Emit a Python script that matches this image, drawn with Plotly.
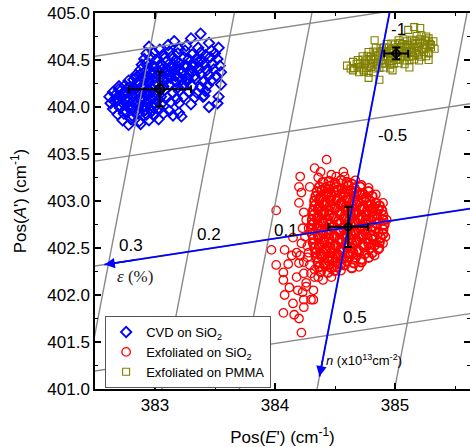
import plotly.graph_objects as go

# ---------------- data ----------------
# Pos(E'), Pos(A') pairs in cm^-1
cvd_points = [
    (383.38, 404.78),
    (383.16, 404.70), (383.30, 404.73), (383.45, 404.68),
    (382.95, 404.64), (383.04, 404.61), (383.11, 404.66), (383.20, 404.62), (383.26, 404.65), (383.36, 404.63), (383.47, 404.60), (383.53, 404.63),
    (382.93, 404.57), (382.99, 404.58), (383.07, 404.56), (383.12, 404.59), (383.19, 404.57), (383.25, 404.60), (383.31, 404.56), (383.38, 404.58), (383.42, 404.55), (383.50, 404.57),
    (382.91, 404.51), (382.97, 404.53), (383.01, 404.50), (383.08, 404.52), (383.14, 404.54), (383.17, 404.50), (383.24, 404.53), (383.28, 404.51), (383.35, 404.52), (383.39, 404.50), (383.46, 404.53), (383.52, 404.51),
    (382.89, 404.45), (382.93, 404.47), (382.98, 404.44), (383.05, 404.46), (383.09, 404.48), (383.15, 404.45), (383.20, 404.47), (383.24, 404.44), (383.31, 404.46), (383.36, 404.48), (383.41, 404.45), (383.48, 404.46), (383.54, 404.44),
    (382.88, 404.40), (382.92, 404.38), (382.95, 404.41), (383.00, 404.42), (383.06, 404.40), (383.11, 404.38), (383.14, 404.41), (383.21, 404.40), (383.26, 404.42), (383.30, 404.39), (383.37, 404.41), (383.43, 404.39), (383.49, 404.40), (383.55, 404.37),
    (382.84, 404.34), (382.88, 404.35), (382.92, 404.33), (382.97, 404.36), (383.02, 404.34), (383.05, 404.32), (383.12, 404.35), (383.17, 404.33), (383.22, 404.36), (383.28, 404.34), (383.33, 404.33), (383.38, 404.35), (383.45, 404.34), (383.51, 404.33),
    (382.78, 404.28), (382.82, 404.29), (382.86, 404.27), (382.91, 404.30), (382.95, 404.28), (383.01, 404.27), (383.06, 404.29), (383.10, 404.30), (383.17, 404.27), (383.22, 404.29), (383.26, 404.28), (383.34, 404.30), (383.40, 404.27), (383.47, 404.28), (383.55, 404.24),
    (382.70, 404.22), (382.75, 404.23), (382.79, 404.21), (382.86, 404.24), (382.89, 404.22), (382.96, 404.21), (383.00, 404.23), (383.07, 404.22), (383.12, 404.24), (383.19, 404.21), (383.23, 404.23), (383.31, 404.22), (383.38, 404.21), (383.44, 404.23),
    (382.65, 404.16), (382.71, 404.17), (382.76, 404.15), (382.80, 404.18), (382.86, 404.16), (382.91, 404.15), (382.95, 404.17), (383.03, 404.16), (383.08, 404.18), (383.15, 404.15), (383.20, 404.17), (383.28, 404.16), (383.35, 404.15), (383.42, 404.17), (383.53, 404.11),
    (382.62, 404.11), (382.68, 404.10), (382.71, 404.12), (382.78, 404.09), (382.82, 404.11), (382.88, 404.10), (382.93, 404.12), (382.97, 404.09), (383.05, 404.11), (383.10, 404.10), (383.18, 404.09), (383.24, 404.11), (383.33, 404.10), (383.41, 404.12),
    (382.63, 404.04), (382.67, 404.05), (382.74, 404.03), (382.78, 404.06), (382.84, 404.04), (382.87, 404.03), (382.94, 404.05), (383.00, 404.04), (383.05, 404.03), (383.13, 404.05), (383.20, 404.04), (383.30, 404.03),
    (382.65, 403.98), (382.71, 403.99), (382.75, 403.97), (382.82, 403.99), (382.86, 403.98), (382.92, 403.97), (382.99, 403.99), (383.04, 403.98), (383.12, 403.96), (383.20, 403.94),
    (382.69, 403.92), (382.74, 403.93), (382.81, 403.91), (382.86, 403.93), (382.93, 403.92), (382.99, 403.91), (383.07, 403.93), (383.15, 403.91),
    (382.73, 403.86), (382.80, 403.87), (382.87, 403.85), (382.95, 403.86), (383.03, 403.87),
    (382.78, 403.81), (382.88, 403.82),
    (382.70, 404.19), (382.77, 404.20), (382.83, 404.19), (382.90, 404.20), (382.98, 404.19), (383.04, 404.20),
    (382.67, 404.13), (382.74, 404.14), (382.81, 404.13), (382.88, 404.14), (382.95, 404.13), (383.02, 404.14),
    (382.68, 404.07), (382.75, 404.08), (382.82, 404.07), (382.89, 404.08), (382.96, 404.07), (383.03, 404.08),
    (382.70, 404.01), (382.78, 404.01), (382.84, 404.02), (382.90, 404.01), (382.97, 404.02),
    (382.76, 403.95), (382.84, 403.95), (382.91, 403.96), (382.97, 403.95),
    (382.84, 404.31), (382.90, 404.31), (382.94, 404.32), (383.00, 404.31), (383.07, 404.30), (383.13, 404.31), (383.20, 404.32), (383.27, 404.31),
    (382.99, 404.43), (383.06, 404.44), (383.13, 404.43), (383.19, 404.43), (383.26, 404.44), (383.32, 404.43),
    (383.00, 404.37), (383.08, 404.37), (383.15, 404.38), (383.22, 404.37), (383.29, 404.38),
    (383.52, 404.04), (383.45, 404.00), (383.22, 403.90), (383.40, 404.11),
]

exf_sio2_core = [
    (384.40, 403.20), (384.45, 403.21), (384.50, 403.19), (384.55, 403.22), (384.60, 403.20), (384.64, 403.18),
    (384.37, 403.15), (384.42, 403.14), (384.46, 403.16), (384.51, 403.15), (384.56, 403.13), (384.61, 403.16), (384.66, 403.14), (384.71, 403.15),
    (384.35, 403.10), (384.39, 403.11), (384.44, 403.09), (384.49, 403.10), (384.53, 403.12), (384.58, 403.09), (384.63, 403.11), (384.68, 403.10), (384.73, 403.08), (384.78, 403.10),
    (384.34, 403.05), (384.38, 403.04), (384.43, 403.06), (384.47, 403.05), (384.52, 403.03), (384.57, 403.06), (384.61, 403.04), (384.66, 403.05), (384.71, 403.07), (384.76, 403.04), (384.81, 403.05),
    (384.33, 403.00), (384.37, 403.01), (384.42, 402.99), (384.46, 403.01), (384.51, 403.00), (384.55, 402.98), (384.60, 403.01), (384.65, 403.00), (384.69, 402.99), (384.74, 403.01), (384.79, 403.00), (384.84, 402.98),
    (384.33, 402.95), (384.37, 402.94), (384.41, 402.96), (384.46, 402.95), (384.50, 402.93), (384.55, 402.96), (384.59, 402.94), (384.64, 402.95), (384.68, 402.96), (384.73, 402.94), (384.78, 402.95), (384.82, 402.93), (384.87, 402.95),
    (384.32, 402.90), (384.36, 402.91), (384.41, 402.89), (384.45, 402.90), (384.50, 402.92), (384.54, 402.89), (384.59, 402.91), (384.63, 402.90), (384.68, 402.88), (384.72, 402.91), (384.77, 402.90), (384.81, 402.89), (384.86, 402.91), (384.89, 402.90),
    (384.32, 402.85), (384.36, 402.84), (384.40, 402.86), (384.45, 402.85), (384.49, 402.83), (384.54, 402.86), (384.58, 402.84), (384.63, 402.85), (384.67, 402.86), (384.72, 402.84), (384.76, 402.85), (384.81, 402.83), (384.85, 402.86), (384.90, 402.85),
    (384.31, 402.80), (384.35, 402.81), (384.40, 402.79), (384.44, 402.80), (384.49, 402.82), (384.53, 402.79), (384.58, 402.81), (384.62, 402.80), (384.67, 402.78), (384.71, 402.81), (384.76, 402.80), (384.80, 402.79), (384.85, 402.81), (384.90, 402.80),
    (384.31, 402.75), (384.36, 402.74), (384.40, 402.76), (384.45, 402.75), (384.49, 402.73), (384.54, 402.76), (384.58, 402.74), (384.63, 402.75), (384.67, 402.76), (384.72, 402.74), (384.76, 402.75), (384.81, 402.73), (384.85, 402.76), (384.91, 402.75),
    (384.31, 402.70), (384.35, 402.71), (384.39, 402.69), (384.44, 402.70), (384.48, 402.72), (384.53, 402.69), (384.57, 402.71), (384.62, 402.70), (384.66, 402.68), (384.71, 402.71), (384.75, 402.70), (384.80, 402.69), (384.84, 402.71), (384.90, 402.70),
    (384.31, 402.65), (384.36, 402.64), (384.40, 402.66), (384.45, 402.65), (384.49, 402.63), (384.54, 402.66), (384.58, 402.64), (384.63, 402.65), (384.67, 402.66), (384.72, 402.64), (384.76, 402.65), (384.81, 402.63), (384.86, 402.66), (384.90, 402.65),
    (384.32, 402.60), (384.36, 402.61), (384.41, 402.59), (384.45, 402.60), (384.50, 402.62), (384.54, 402.59), (384.59, 402.61), (384.63, 402.60), (384.68, 402.58), (384.72, 402.61), (384.77, 402.60), (384.82, 402.59), (384.88, 402.61),
    (384.32, 402.55), (384.37, 402.54), (384.41, 402.56), (384.46, 402.55), (384.50, 402.53), (384.55, 402.56), (384.59, 402.54), (384.64, 402.55), (384.68, 402.56), (384.73, 402.54), (384.78, 402.55), (384.83, 402.53), (384.87, 402.56),
    (384.33, 402.50), (384.37, 402.51), (384.42, 402.49), (384.46, 402.50), (384.51, 402.52), (384.55, 402.49), (384.60, 402.51), (384.64, 402.50), (384.69, 402.48), (384.74, 402.51), (384.79, 402.50), (384.86, 402.49),
    (384.34, 402.45), (384.38, 402.44), (384.43, 402.46), (384.47, 402.45), (384.52, 402.43), (384.56, 402.46), (384.61, 402.44), (384.65, 402.45), (384.70, 402.46), (384.75, 402.44), (384.81, 402.45),
    (384.35, 402.40), (384.39, 402.41), (384.44, 402.39), (384.48, 402.40), (384.53, 402.42), (384.57, 402.39), (384.62, 402.41), (384.67, 402.40), (384.72, 402.38), (384.78, 402.40),
    (384.36, 402.35), (384.41, 402.34), (384.45, 402.36), (384.50, 402.35), (384.55, 402.33), (384.60, 402.36), (384.66, 402.34), (384.72, 402.35),
    (384.37, 402.30), (384.42, 402.31), (384.47, 402.29), (384.52, 402.30), (384.58, 402.32), (384.64, 402.29),
    (384.38, 402.25), (384.44, 402.24), (384.50, 402.26),
]

exf_sio2_scatter = [
    (384.43, 403.44), (384.33, 403.35), (384.38, 403.31), (384.21, 403.26), (384.47, 403.28), (384.51, 403.26), (384.57, 403.31), (384.58, 403.26),
    (384.20, 403.15), (384.29, 403.15), (384.22, 403.09), (384.20, 402.98), (384.01, 402.90), (384.36, 403.25), (384.24, 402.88), (384.26, 402.80),
    (384.23, 402.71), (384.28, 402.71), (384.87, 402.50), (384.33, 402.27), (384.26, 402.09), (384.30, 401.95), (384.24, 401.87),
    (383.97, 402.48), (384.08, 402.48), (384.15, 402.61), (384.01, 402.32), (384.07, 402.24), (384.07, 402.16), (384.08, 402.00), (384.15, 401.91),
    (384.07, 401.81), (384.16, 401.79), (384.22, 401.60), (384.19, 402.05), (384.23, 402.03), (384.32, 402.05), (384.24, 401.95), (384.32, 401.95),
    (384.18, 402.19), (384.24, 402.23), (384.26, 402.13), (384.20, 402.34), (384.24, 402.35), (384.30, 402.23), (384.33, 402.19), (384.36, 402.19),
    (384.40, 402.16), (384.47, 402.19), (384.67, 403.22), (384.72, 403.17), (384.78, 403.14), (384.84, 403.07), (384.90, 402.98), (384.93, 402.80),
    (384.92, 402.62), (384.90, 402.55), (384.83, 402.42), (384.70, 402.30), (384.55, 402.26), (384.27, 402.52), (384.27, 402.40), (384.29, 402.32),
    (384.14, 402.42), (384.11, 402.33), (384.12, 402.08), (384.20, 401.75), (384.18, 402.45), (384.22, 402.55), (384.25, 402.62), (384.21, 402.42),
    (384.28, 402.45),
]

exf_pmma_points = [
    (385.18, 404.755), (385.22, 404.76), (385.26, 404.75),
    (385.03, 404.71), (385.07, 404.72), (385.10, 404.70), (385.14, 404.715), (385.17, 404.705), (385.21, 404.72), (385.25, 404.71), (385.28, 404.70),
    (384.93, 404.67), (384.97, 404.675), (385.00, 404.665), (385.04, 404.68), (385.07, 404.67), (385.11, 404.66), (385.14, 404.675), (385.18, 404.67), (385.21, 404.68), (385.25, 404.665), (385.29, 404.67),
    (384.84, 404.63), (384.88, 404.625), (384.91, 404.635), (384.95, 404.63), (384.98, 404.62), (385.02, 404.635), (385.05, 404.63), (385.09, 404.64), (385.12, 404.625), (385.16, 404.63), (385.19, 404.635), (385.23, 404.62), (385.26, 404.63), (385.30, 404.635),
    (384.78, 404.585), (384.82, 404.59), (384.85, 404.58), (384.89, 404.595), (384.92, 404.585), (384.96, 404.575), (384.99, 404.59), (385.03, 404.585), (385.06, 404.58), (385.10, 404.595), (385.13, 404.585), (385.17, 404.575), (385.20, 404.59), (385.24, 404.585), (385.28, 404.58),
    (384.73, 404.54), (384.77, 404.545), (384.80, 404.535), (384.84, 404.54), (384.87, 404.55), (384.91, 404.535), (384.94, 404.54), (384.98, 404.545), (385.01, 404.53), (385.05, 404.54), (385.08, 404.545), (385.12, 404.535), (385.15, 404.54), (385.19, 404.55), (385.22, 404.535), (385.26, 404.54),
    (384.69, 404.50), (384.73, 404.505), (384.76, 404.495), (384.80, 404.50), (384.83, 404.51), (384.87, 404.495), (384.90, 404.50), (384.94, 404.505), (384.97, 404.49), (385.01, 404.50), (385.04, 404.505), (385.08, 404.495), (385.12, 404.50), (385.16, 404.505), (385.20, 404.495),
    (384.68, 404.46), (384.71, 404.465), (384.75, 404.455), (384.78, 404.46), (384.82, 404.47), (384.85, 404.455), (384.89, 404.46), (384.92, 404.465), (384.96, 404.45), (384.99, 404.46), (385.03, 404.465), (385.08, 404.455),
    (384.66, 404.415), (384.70, 404.42), (384.73, 404.41), (384.77, 404.415), (384.80, 404.425), (384.84, 404.41), (384.87, 404.415), (384.91, 404.42), (384.96, 404.41),
    (384.70, 404.37), (384.74, 404.375), (384.78, 404.365), (384.82, 404.37),
    (384.83, 404.71), (385.11, 404.82), (385.16, 404.85), (385.21, 404.84), (385.28, 404.73), (385.30, 404.66), (385.28, 404.57), (385.28, 404.50),
    (385.33, 404.62), (384.87, 404.29), (384.78, 404.31), (384.63, 404.41), (384.65, 404.48), (384.65, 404.39), (384.74, 404.39), (384.98, 404.39),
    (385.12, 404.42), (384.60, 404.44), (385.32, 404.70),
]

# means and standard deviations (E', A')
means_E = [383.04, 384.61, 385.01]
means_A = [404.19, 402.725, 404.57]
sd_E = [0.26, 0.165, 0.10]
sd_A = [0.185, 0.215, 0.063]

# strain / doping decomposition: reference point and shift coefficients
ref_E, ref_A = 384.61, 402.72
strain_dE, strain_dA = -6.66, -1.30     # cm^-1 per 1 % strain
doping_dE, doping_dA = -0.347, -2.30    # cm^-1 per 1e13 cm^-2
strain_grid = [-0.2, -0.1, 0.0, 0.1, 0.2, 0.3, 0.4]
doping_grid = [-1.5, -1.0, -0.5, 0.0, 0.5, 1.0]
strain_labels = [0.1, 0.2, 0.3]
doping_labels = [-1, -0.5, 0.5]
strain_arrow = (-0.3, 0.305)
doping_arrow = (-1.5, 0.69)

x_range = [382.5, 385.625]
y_range = [401.0, 405.0]

# ---------------- figure ----------------
FONT = "Liberation Sans, Arial, sans-serif"


def pt(eps, n):
    return (ref_E + eps * strain_dE + n * doping_dE,
            ref_A + eps * strain_dA + n * doping_dA)


fig = go.Figure()

BLUE, RED, OLIVE = "#0000FF", "#FF0000", "#808000"

fig.add_trace(go.Scatter(
    x=[p[0] for p in cvd_points], y=[p[1] for p in cvd_points], mode="markers",
    name="CVD on SiO<sub>2</sub>",
    marker=dict(symbol="diamond-open", size=8, color=BLUE, line=dict(width=1.8, color=BLUE))))
fig.add_trace(go.Scatter(
    x=[p[0] for p in exf_sio2_core], y=[p[1] for p in exf_sio2_core], mode="markers",
    showlegend=False, hoverinfo="skip",
    marker=dict(symbol="circle-open", size=9, color=RED, line=dict(width=2.0, color=RED))))
fig.add_trace(go.Scatter(
    x=[p[0] for p in exf_sio2_scatter], y=[p[1] for p in exf_sio2_scatter], mode="markers",
    name="Exfoliated on SiO<sub>2</sub>",
    marker=dict(symbol="circle-open", size=8.5, color=RED, line=dict(width=1.3, color=RED))))
fig.add_trace(go.Scatter(
    x=[p[0] for p in exf_pmma_points], y=[p[1] for p in exf_pmma_points], mode="markers",
    name="Exfoliated on PMMA",
    marker=dict(symbol="square-open", size=7, color=OLIVE, line=dict(width=1.1, color=OLIVE))))

# gray iso-strain / iso-doping lines
for e in strain_grid:
    a, b = pt(e, -3), pt(e, 3)
    fig.add_trace(go.Scatter(x=[a[0], b[0]], y=[a[1], b[1]], mode="lines",
                             line=dict(color="#8a8a8a", width=1.4), showlegend=False, hoverinfo="skip"))
for n in doping_grid:
    a, b = pt(-1, n), pt(1, n)
    fig.add_trace(go.Scatter(x=[a[0], b[0]], y=[a[1], b[1]], mode="lines",
                             line=dict(color="#8a8a8a", width=1.4), showlegend=False, hoverinfo="skip"))

# blue axes
s0, s1 = pt(strain_arrow[0], 0), pt(strain_arrow[1], 0)
d0, d1 = pt(0, doping_arrow[0]), pt(0, doping_arrow[1])
for a, b in [(s0, s1), (d0, d1)]:
    fig.add_trace(go.Scatter(x=[a[0], b[0]], y=[a[1], b[1]], mode="lines",
                             line=dict(color=BLUE, width=1.8), showlegend=False, hoverinfo="skip"))

# means with error bars
mean_syms = ["diamond-open", "circle-open", "diamond-open"]
mean_sizes = [9, 7, 7]
for i in range(3):
    fig.add_trace(go.Scatter(
        x=[means_E[i]], y=[means_A[i]], mode="markers", showlegend=False,
        marker=dict(symbol=mean_syms[i], size=mean_sizes[i], color="black", line=dict(width=1.8, color="black")),
        error_x=dict(type="data", array=[sd_E[i]], color="black", thickness=2, width=4),
        error_y=dict(type="data", array=[sd_A[i]], color="black", thickness=2, width=4),
    ))

annotations = []
# arrowheads
for tip, back in [(pt(strain_arrow[1], 0), pt(strain_arrow[1] - 0.04, 0)),
                  (pt(0, doping_arrow[1]), pt(0, doping_arrow[1] - 0.08))]:
    annotations.append(dict(x=tip[0], y=tip[1], ax=back[0], ay=back[1], xref="x", yref="y",
                            axref="x", ayref="y", text="", showarrow=True, arrowhead=2,
                            arrowsize=1.3, arrowwidth=1.6, arrowcolor=BLUE, standoff=0))

LABEL_FONT = dict(family=FONT, size=17, color="black")
strain_shift = [(18, 9), (21, 17), (23, 18)]
for v, (dx, dy) in zip(strain_labels, strain_shift):
    p = pt(v, 0)
    annotations.append(dict(x=p[0], y=p[1], text=f"{v:g}", showarrow=False, xshift=dx, yshift=dy,
                            font=LABEL_FONT))
# doping labels anchored a little inside the plot so they are never dropped
doping_anchor = [-0.92, -0.5, 0.5]
doping_shift = [(12, -1), (23, -16), (28, 18)]
for v, a, (dx, dy) in zip(doping_labels, doping_anchor, doping_shift):
    p = pt(0, a)
    annotations.append(dict(x=p[0], y=p[1], text=f"{v:g}", showarrow=False, xshift=dx, yshift=dy,
                            font=LABEL_FONT))

p = pt(0.3, 0)
annotations.append(dict(x=p[0], y=p[1], text="<i>ε</i> (%)", showarrow=False, xshift=27, yshift=-13,
                        font=dict(family="Liberation Serif, Times New Roman, serif", size=17, color="#222")))
p = pt(0, 0.6)
annotations.append(dict(x=p[0], y=p[1], text="<i>n</i> (x10<sup>13</sup>cm<sup>-2</sup>)", showarrow=False,
                        xanchor="left", xshift=1, yshift=-3,
                        font=dict(family=FONT, size=13, color="black")))

axis_common = dict(showgrid=False, zeroline=False, ticks="inside", ticklen=6, tickwidth=1.5,
                   tickcolor="black", linecolor="black", linewidth=1.5, automargin=False,
                   tickfont=dict(family=FONT, size=17, color="black"))

fig.update_layout(
    width=470, height=447,
    margin=dict(l=95, r=0, t=13, b=58, autoexpand=False),
    paper_bgcolor="white", plot_bgcolor="white",
    font=dict(family=FONT, size=17, color="black"),
    xaxis=dict(range=x_range, tickvals=[383, 384, 385], showline=True, mirror="ticks",
               minor=dict(dtick=0.5, tick0=382.5, ticks="inside", ticklen=3, tickcolor="black", tickwidth=1.2),
               title=dict(text="Pos(<i>E</i>') (cm<sup>-1</sup>)", font=dict(family=FONT, size=17), standoff=18),
               **axis_common),
    yaxis=dict(range=y_range, dtick=0.5, tick0=401, tickformat=".1f", showline=True, mirror=False,
               minor=dict(dtick=0.25, tick0=401, ticks="inside", ticklen=3, tickcolor="black", tickwidth=1.2),
               title=dict(text="Pos(<i>A</i>') (cm<sup>-1</sup>)", font=dict(family=FONT, size=17), standoff=16),
               **axis_common),
    yaxis2=dict(range=y_range, overlaying="y", side="right", anchor="x", dtick=0.5, tick0=401,
                showticklabels=False, showline=False, showgrid=False, zeroline=False, automargin=False,
                ticks="inside", ticklen=6, tickwidth=1.5, tickcolor="black",
                minor=dict(dtick=0.25, tick0=401, ticks="inside", ticklen=3, tickcolor="black", tickwidth=1.2)),
    legend=dict(x=0.027, y=0.194, xanchor="left", yanchor="top", bgcolor="white",
                bordercolor="#555", borderwidth=1, font=dict(family=FONT, size=13, color="black"),
                tracegroupgap=0),
    annotations=annotations,
    showlegend=True,
)
# invisible trace to make sure the right-hand tick axis is drawn
fig.add_trace(go.Scatter(x=[None], y=[None], yaxis="y2", showlegend=False, hoverinfo="skip"))

# the page body gets no default 8px margin, so the 470x447 figure fills the window exactly
fig.write_html("out.html", config={"displayModeBar": False},
               post_script="document.body.style.margin='0px';")
